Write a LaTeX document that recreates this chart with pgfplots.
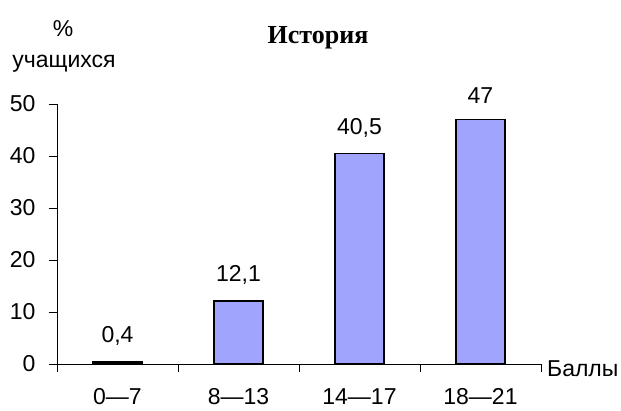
\documentclass[border=0pt]{standalone}
\usepackage{fontspec}
\setmainfont{Liberation Sans}
\newfontfamily\titlefont{Liberation Serif}
\usepackage{pgfplots}
\pgfplotsset{compat=1.18}
\definecolor{barblue}{RGB}{160,164,252}
\newcommand{\lblfont}{\fontsize{23}{27}\selectfont}
\begin{document}
\begin{tikzpicture}[x=1pt,y=1pt]
\useasboundingbox (0,0) rectangle (621,410);
\begin{axis}[
  at={(57pt,46pt)}, anchor=south west,
  scale only axis, width=484pt, height=260pt,
  xmin=-0.5, xmax=3.5, ymin=0, ymax=50,
  axis x line=bottom, axis y line=left,
  axis line style={-, black, line width=0.8pt},
  tick align=outside,
  ytick={0,10,20,30,40,50},
  xtick={-0.5,0.5,1.5,2.5,3.5}, xticklabels={},
  major tick length=8pt,
  tick style={black, line width=0.8pt},
  extra x ticks={0,1,2,3},
  extra x tick labels={0—7,8—13,14—17,18—21},
  extra x tick style={major tick length=0pt, tick style={draw=none},
    tick label style={yshift=-21pt}},
  /pgf/number format/assume math mode=true,
  ticklabel style={font=\lblfont},
  yticklabel style={xshift=-10pt},
  ybar, bar width=49pt,
  nodes near coords, point meta=explicit symbolic,
  every node near coord/.append style={font=\lblfont, yshift=12.3pt},
  clip=false,
]
\addplot[fill=barblue, draw=black, line width=1.6pt] coordinates {
  (0,0.4) [0,4]
  (1,12.1) [12,1]
  (2,40.5) [40,5]
  (3,47) [47]
};
\end{axis}
\node[font=\titlefont\bfseries\fontsize{26}{30}\selectfont] at (318,372) {История};
\node[font=\lblfont] at (63,381) {\%};
\node[font=\lblfont] at (64,346.6) {учащихся};
\node[font=\lblfont, anchor=west, inner sep=0pt] at (547,41) {Баллы};
\end{tikzpicture}
\end{document}
